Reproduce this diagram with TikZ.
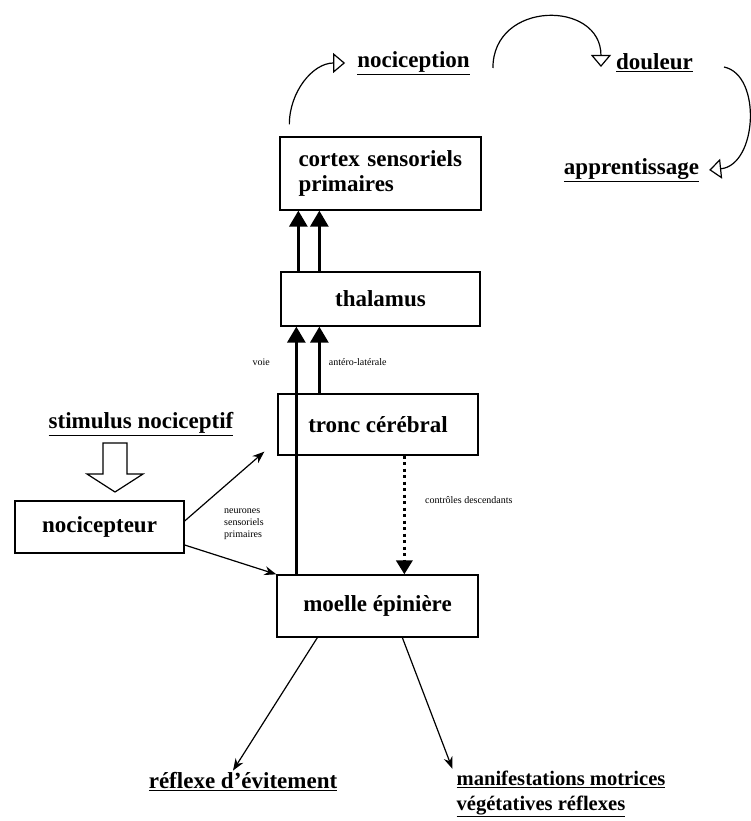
\documentclass[tikz,border=0pt]{standalone}
\usepackage{fontspec}
\setmainfont{Liberation Serif}
\usetikzlibrary{arrows.meta}

\begin{document}
\begin{tikzpicture}[x=1pt,y=-1pt,
    box/.style={draw, rectangle, line width=1.3pt, fill=none, text=black, inner sep=0pt, font=\bfseries\fontsize{23}{25}\selectfont},
    title/.style={inner sep=2pt, font=\bfseries\fontsize{23}{25}\selectfont},
    tiny/.style={inner sep=0pt, font=\fontsize{10}{12}\selectfont},
    bigarrow/.style={line width=3pt, -{Triangle[width=18pt,length=16pt]}},
    thinarrow/.style={line width=1.2pt, -{Stealth[width=9pt,length=12pt]}},
    openarrow/.style={line width=1.2pt, -{Triangle[open,width=20pt,length=12pt]}}]
    \useasboundingbox (0,0) rectangle (750,821);

    \node[box, minimum width=201pt, minimum height=73pt, text width=164pt, align=left] (cortex) at (380.5,173.5) {cortex sensoriels\\primaires};
    \node[box, minimum width=199pt, minimum height=54pt] (thal) at (380.5,299) {thalamus};
    \node[box, minimum width=200pt, minimum height=61pt] (tronc) at (378,424.5) {tronc cérébral};
    \node[box, minimum width=169pt, minimum height=52pt] (noci) at (99.5,527) {nocicepteur};
    \node[box, minimum width=201pt, minimum height=62pt] (moelle) at (377.5,606) {moelle épinière};

    \node[title] (stim) at (141,424) {\underline{stimulus nociceptif}};
    \node[title] (nocic) at (413.5,63) {\underline{nociception}};
    \node[title] (douleur) at (654.5,63) {\underline{douleur}};
    \node[title] (apprent) at (631.5,170) {\underline{apprentissage}};
    \node[title] (reflexe) at (243,782) {\underline{réflexe d’évitement}};
    \node[title, align=left, font=\bfseries\fontsize{20.6}{25}\selectfont] (manif) at (561,794) {\underline{manifestations motrices}\\\underline{végétatives réflexes}};
    \node[tiny, anchor=west, align=left] (neur) at (224,524) {neurones\\sensoriels\\primaires};

    % stimulus -> nocicepteur
    \draw[line width=1.2pt] (103,443) -- (127,443) -- (127,474) -- (143,474) -- (115,492) -- (87,474) -- (103,474) -- cycle;

    % ascending pathways
    \draw[bigarrow] ([xshift=18pt]thal.north west) -- ([xshift=18pt]thal.north west |- cortex.south);
    \draw[bigarrow] ([xshift=39pt]thal.north west) -- ([xshift=39pt]thal.north west |- cortex.south);
    \draw[bigarrow] ([xshift=20pt]moelle.north west) -- node[tiny, pos=0.855, anchor=east, xshift=-25pt] {voie} ([xshift=20pt]moelle.north west |- thal.south);
    \draw[bigarrow] ([xshift=42pt]tronc.north west) -- node[tiny, pos=0.47, anchor=west, xshift=8pt] {antéro-latérale} ([xshift=42pt]tronc.north west |- thal.south);

    % descending controls
    \draw[line width=3.5pt, dash pattern=on 3pt off 3.5pt, -{Triangle[width=16pt,length=14pt]}] ([xshift=127pt]tronc.south west) -- node[tiny, pos=0.37, anchor=west, xshift=19pt] {contrôles descendants} ([xshift=127pt]tronc.south west |- moelle.north);

    \draw[thinarrow] ([yshift=6pt]noci.east) -- ([xshift=-13pt,yshift=4pt]tronc.south west);
    \draw[thinarrow] ([yshift=-18pt]noci.east) -- (moelle.north west);
    \draw[thinarrow] ([xshift=41pt]moelle.south west) -- ([xshift=-10pt]reflexe.north);
    \draw[thinarrow] ([xshift=126pt]moelle.south west) -- ([xshift=-2pt]manif.north west);

    % top loop
    \draw[openarrow] ([xshift=10pt,yshift=12pt]cortex.north west) to[out=90,in=180] ([xshift=-10pt]nocic.west);
    \draw[openarrow] ([xshift=21pt,yshift=-5pt]nocic.east) .. controls +(0,-68) and +(0,-67) .. ([xshift=-13pt,yshift=-4pt]douleur.west);
    \draw[openarrow] ([xshift=29pt,yshift=-4pt]douleur.east) .. controls +(38,8) and +(48,-5) .. ([xshift=8pt]apprent.east);
\end{tikzpicture}
\end{document}
